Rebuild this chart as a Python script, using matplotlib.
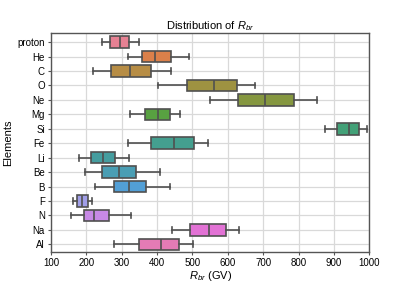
import matplotlib
matplotlib.use("Agg")
import matplotlib.pyplot as plt
import seaborn as sns

plt.rcParams["font.family"] = ["Liberation Sans", "DejaVu Sans"]
plt.rcParams["mathtext.fontset"] = "custom"
plt.rcParams["mathtext.rm"] = "Liberation Sans"
plt.rcParams["mathtext.it"] = "Liberation Sans:italic"
plt.rcParams["mathtext.bf"] = "Liberation Sans:bold"

elements = ["proton", "He", "C", "O", "Ne", "Mg", "Si", "Fe", "Li", "Be", "B", "F", "N", "Na", "Al"]
whisker_low = [245, 318, 218, 402, 549, 324, 875, 319, 179, 196, 224, 163, 157, 441, 279]
q1 = [268, 358, 269, 485, 628, 367, 908, 383, 213, 245, 278, 175, 194, 492, 349]
median = [294, 395, 323, 562, 704, 403, 943, 447, 246, 293, 321, 189, 222, 547, 412]
q3 = [321, 439, 382, 627, 786, 437, 972, 503, 280, 339, 368, 205, 264, 595, 463]
whisker_high = [349, 489, 439, 678, 852, 465, 994, 545, 320, 409, 436, 216, 326, 631, 501]
xticks = [100, 200, 300, 400, 500, 600, 700, 800, 900, 1000]

pal = [sns.desaturate(c, 0.75) for c in sns.color_palette("husl", len(elements))]
edge = "#505050"

fig = plt.figure(figsize=(4.11, 2.83), dpi=100)
ax = fig.add_axes([0.124, 0.111, 0.7746, 0.771])

stats = []
for i, name in enumerate(elements):
    stats.append(dict(label=name, whislo=whisker_low[i], q1=q1[i], med=median[i],
                      q3=q3[i], whishi=whisker_high[i], fliers=[]))

positions = list(range(len(elements)))
bp = ax.bxp(stats, positions=positions, vert=False, widths=0.8, patch_artist=True,
            showfliers=False,
            boxprops=dict(edgecolor=edge, linewidth=1.2),
            medianprops=dict(color=edge, linewidth=1.2),
            whiskerprops=dict(color=edge, linewidth=1.2),
            capprops=dict(color=edge, linewidth=1.2),
            capwidths=0.4, zorder=3)
for patch, c in zip(bp["boxes"], pal):
    patch.set_facecolor(c)

ax.set_xlim(100, 1000)
ax.set_ylim(len(elements) - 0.5, -0.6)
ax.set_xticks(xticks)
ax.set_yticks(positions)
ax.set_yticklabels(elements)
ax.grid(True, color="#d9d9d9", linewidth=0.9, zorder=0)
ax.set_axisbelow(True)
for s in ax.spines.values():
    s.set_color("#555555")
    s.set_linewidth(1.0)
ax.tick_params(axis="both", labelsize=7, length=2.5, width=0.8, color="#555555", pad=2)
ax.set_title("Distribution of $R_{br}$", fontsize=8, pad=3)
ax.set_xlabel("$R_{br}$ (GV)", fontsize=8, labelpad=1)
ax.set_ylabel("Elements", fontsize=8, labelpad=3)

fig.savefig("out.png", dpi=100)
